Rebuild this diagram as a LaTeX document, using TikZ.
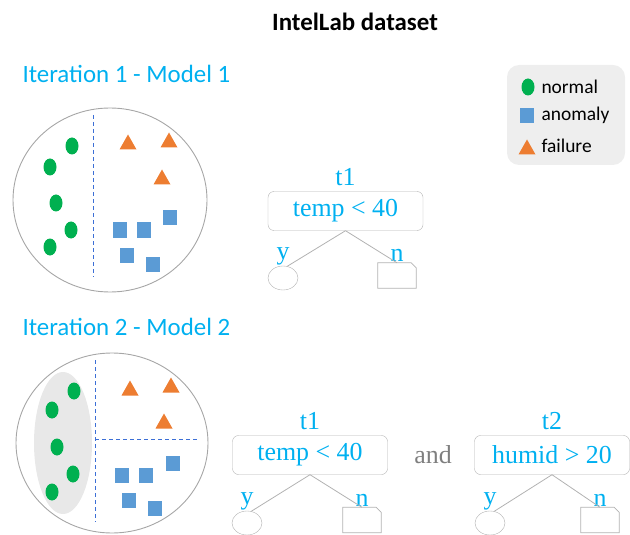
\documentclass[tikz,border=0pt]{standalone}
\usepackage{fontspec}
\setmainfont{Carlito}
\newfontfamily\treefont{Liberation Serif}
\usetikzlibrary{shapes.geometric}
\definecolor{iterblue}{HTML}{00B0F0}
\definecolor{normalgreen}{HTML}{00B050}
\definecolor{anomblue}{HTML}{5B9BD5}
\definecolor{failorange}{HTML}{ED7D31}
\definecolor{dashblue}{HTML}{3C6FD6}
\definecolor{andgray}{HTML}{7F7F7F}
\tikzset{
  testbox/.style={draw=gray!60, rounded corners=6bp, minimum width=155bp, minimum height=39bp, inner sep=0pt, text=iterblue, font=\treefont\fontsize{26}{30}\selectfont},
  treelabel/.style={text=iterblue, font=\treefont\fontsize{26}{30}\selectfont, inner sep=1bp},
  leafyes/.style={ellipse, draw=gray!60, minimum width=30bp, minimum height=24bp, inner sep=0pt},
  leafno/.style={rectangle, minimum width=38bp, minimum height=25bp, inner sep=0pt},
  leafline/.style={draw=gray!60, line width=0.8bp},
  splitline/.style={draw=dashblue, line width=1bp, dash pattern=on 4bp off 3bp},
  itertitle/.style={anchor=west, text=iterblue, font=\fontsize{25}{30}\selectfont},
  legendtext/.style={anchor=west, font=\fontsize{19.5}{22}\selectfont}
}
\begin{document}
\begin{tikzpicture}[x=1bp,y=-1bp]
\useasboundingbox (0,0) rectangle (630,535);
\node[font=\bfseries\fontsize{25}{30}\selectfont] (title) at (355,22) {IntelLab dataset};

% iteration 1
\node[itertitle] (iter1) at (19,74) {Iteration 1 - Model 1};
\draw[gray!70, line width=0.9bp] (110,200) ellipse (97 and 92);
\draw[splitline] (93,115) -- (93,277);
\fill[normalgreen] (72,146) ellipse (6.5 and 8.5);
\fill[normalgreen] (50,167) ellipse (6.5 and 8.5);
\fill[normalgreen] (56,203) ellipse (6.5 and 8.5);
\fill[normalgreen] (71,230) ellipse (6.5 and 8.5);
\fill[normalgreen] (50,247) ellipse (6.5 and 8.5);
\fill[failorange] (128,142) +(-8.5,7.5) -- +(8.5,7.5) -- +(0,-7.5) -- cycle;
\fill[failorange] (169,140) +(-8.5,7.5) -- +(8.5,7.5) -- +(0,-7.5) -- cycle;
\fill[failorange] (162,177) +(-8.5,7.5) -- +(8.5,7.5) -- +(0,-7.5) -- cycle;
\fill[anomblue] (120,230) +(-7,-7.5) rectangle +(7,7.5);
\fill[anomblue] (144,230) +(-7,-7.5) rectangle +(7,7.5);
\fill[anomblue] (170,218) +(-7,-7.5) rectangle +(7,7.5);
\fill[anomblue] (127,255) +(-7,-7.5) rectangle +(7,7.5);
\fill[anomblue] (153,264) +(-7,-7.5) rectangle +(7,7.5);

% legend
\fill[gray!13, rounded corners=12bp] (507,65) rectangle (625,165);
\fill[normalgreen] (528,87) ellipse (6.5 and 8.5);
\node[legendtext] (lnormal) at (538,87) {normal};
\fill[anomblue] (527,116) +(-7,-7.5) rectangle +(7,7.5);
\node[legendtext] (lanom) at (538,115) {anomaly};
\fill[failorange] (527,147) +(-8.5,7.5) -- +(8.5,7.5) -- +(0,-7.5) -- cycle;
\node[legendtext] (lfail) at (538,146) {failure};

% tree of model 1
\node[testbox, label={[treelabel, label distance=4bp]above:t1}] (testA) at (345.5,211) {temp < 40};
\node[leafyes, label={[treelabel]above:y}] (yesA) at (283,278) {};
\node[leafno, label={[treelabel]above:n}] (noA) at (397,275.5) {};
\draw[leafline] (noA.south west) -- (noA.north west) -- ([xshift=-5bp]noA.north east) -- ([yshift=-5bp]noA.north east) -- (noA.south east) -- cycle;
\draw[leafline] (testA.south) -- (yesA.70);
\draw[leafline] (testA.south) -- (noA.north);

% iteration 2
\node[itertitle] (iter2) at (19,327) {Iteration 2 - Model 2};
\draw[gray!70, line width=0.9bp] (112,443) ellipse (96 and 90);
\fill[gray!18] (63,443) ellipse (29 and 71);
\draw[splitline] (95,360) -- (95,522);
\draw[splitline] (95,439) -- (197,439);
\fill[normalgreen] (74,391) ellipse (6.5 and 8.5);
\fill[normalgreen] (52,410) ellipse (6.5 and 8.5);
\fill[normalgreen] (57,447) ellipse (6.5 and 8.5);
\fill[normalgreen] (73,474) ellipse (6.5 and 8.5);
\fill[normalgreen] (52,492) ellipse (6.5 and 8.5);
\fill[failorange] (130,388) +(-8.5,7.5) -- +(8.5,7.5) -- +(0,-7.5) -- cycle;
\fill[failorange] (171,385) +(-8.5,7.5) -- +(8.5,7.5) -- +(0,-7.5) -- cycle;
\fill[failorange] (164,421) +(-8.5,7.5) -- +(8.5,7.5) -- +(0,-7.5) -- cycle;
\fill[anomblue] (122,475) +(-7,-7.5) rectangle +(7,7.5);
\fill[anomblue] (146,475) +(-7,-7.5) rectangle +(7,7.5);
\fill[anomblue] (173,463) +(-7,-7.5) rectangle +(7,7.5);
\fill[anomblue] (129,500) +(-7,-7.5) rectangle +(7,7.5);
\fill[anomblue] (155,508) +(-7,-7.5) rectangle +(7,7.5);

% trees of model 2
\node[testbox, label={[treelabel, label distance=4bp]above:t1}] (testB) at (310,455) {temp < 40};
\node[leafyes, label={[treelabel]above:y}] (yesB) at (247,523) {};
\node[leafno, label={[treelabel]above:n}] (noB) at (362,520) {};
\draw[leafline] (noB.south west) -- (noB.north west) -- ([xshift=-5bp]noB.north east) -- ([yshift=-5bp]noB.north east) -- (noB.south east) -- cycle;
\draw[leafline] (testB.south) -- (yesB.70);
\draw[leafline] (testB.south) -- (noB.north);

\node[text=andgray, font=\treefont\fontsize{26}{30}\selectfont] (andword) at (433,455) {and};

\node[testbox, label={[treelabel, label distance=4bp]above:t2}] (testC) at (552,455) {humid > 20};
\node[leafyes, label={[treelabel]above:y}] (yesC) at (490,523) {};
\node[leafno, label={[treelabel]above:n}] (noC) at (600,520) {};
\draw[leafline] (noC.south west) -- (noC.north west) -- ([xshift=-5bp]noC.north east) -- ([yshift=-5bp]noC.north east) -- (noC.south east) -- cycle;
\draw[leafline] (testC.south) -- (yesC.70);
\draw[leafline] (testC.south) -- (noC.north);
\end{tikzpicture}
\end{document}
